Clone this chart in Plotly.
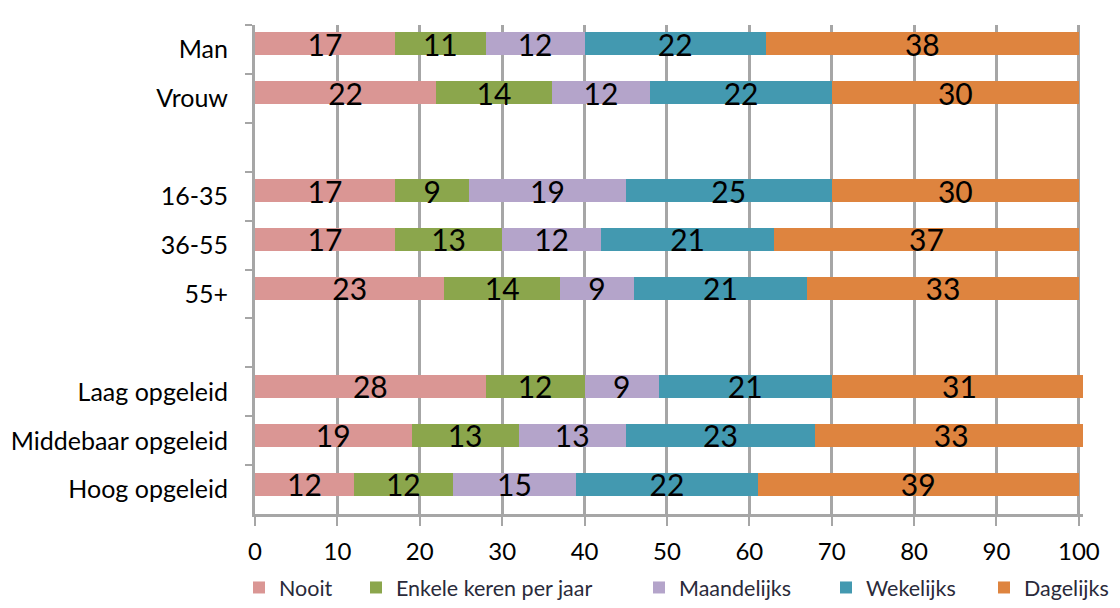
import plotly.graph_objects as go

categories = ["Man", "Vrouw", " ", "16-35", "36-55", "55+", "  ",
              "Laag opgeleid", "Middebaar opgeleid", "Hoog opgeleid"]
nooit = [17, 22, None, 17, 17, 23, None, 28, 19, 12]
enkele = [11, 14, None, 9, 13, 14, None, 12, 13, 12]
maandelijks = [12, 12, None, 19, 12, 9, None, 9, 13, 15]
wekelijks = [22, 22, None, 25, 21, 21, None, 21, 23, 22]
dagelijks = [38, 30, None, 30, 37, 33, None, 31, 33, 39]

series = [
    ("Nooit", nooit, "#DA9694"),
    ("Enkele keren per jaar", enkele, "#8BA64C"),
    ("Maandelijks", maandelijks, "#B4A4CA"),
    ("Wekelijks", wekelijks, "#4399B0"),
    ("Dagelijks", dagelijks, "#DE843F"),
]
x_ticks = list(range(0, 101, 10))

FONT = "Lato, 'Open Sans', sans-serif"

# figure size (the page body adds an 8px offset on the left/top)
W, H = 1112, 600
OFF = 8

def fx(page_x):
    return (page_x - OFF) / W

def fy(page_y):
    return 1 - (page_y - OFF) / H

# legend symbol centres (page px)
legend_marker_page_x = [258, 375, 658, 845, 1003]

fig = go.Figure()
for i, (name, vals, color) in enumerate(series):
    lg = "legend" if i == 0 else f"legend{i+1}"
    fig.add_trace(go.Bar(
        name=name, y=categories, x=vals, orientation="h",
        marker=dict(color=color, line=dict(width=0)),
        text=[("" if v is None else str(v)) for v in vals],
        textposition="inside", insidetextanchor="middle",
        textangle=0, constraintext="none",
        textfont=dict(family=FONT, size=30, color="black"),
        width=0.47, offset=-0.35,
        legend=lg,
    ))

legend_y = fy(588)
layout_legends = {}
for i, px in enumerate(legend_marker_page_x):
    key = "legend" if i == 0 else f"legend{i+1}"
    layout_legends[key] = dict(
        orientation="h", x=fx(px - 19), xanchor="left", y=legend_y,
        yanchor="middle", font=dict(size=21.5, color="#2a2a3a"),
        itemwidth=30, bgcolor="rgba(0,0,0,0)", borderwidth=0,
    )
layout_legends["legend5"].update(x=fx(1114), xanchor="right")

fig.update_layout(
    barmode="stack",
    width=W, height=H,
    margin=dict(l=0, r=0, t=0, b=0),
    paper_bgcolor="white", plot_bgcolor="white",
    font=dict(family=FONT, color="black"),
    showlegend=True,
    **layout_legends,
)
fig.update_xaxes(
    domain=[fx(255), fx(1083)],
    range=[0, 100.5], tickvals=x_ticks,
    showgrid=True, gridcolor="#A6A6A6", gridwidth=3,
    showline=True, linecolor="#A6A6A6", linewidth=3,
    ticks="outside", ticklen=9, tickcolor="#A6A6A6", tickwidth=2,
    tickfont=dict(size=24, color="black"), ticklabelstandoff=5,
    zeroline=False, automargin=False,
)
fig.update_yaxes(
    domain=[fy(515), fy(25)],
    categoryorder="array", categoryarray=categories, autorange="reversed",
    showline=True, linecolor="#A6A6A6", linewidth=3,
    ticks="outside", ticklen=7, tickcolor="#A6A6A6", tickwidth=2,
    tickson="boundaries", showgrid=False,
    tickfont=dict(size=25, color="black"), ticklabelstandoff=19,
    automargin=False,
)

fig.write_html("out.html")
